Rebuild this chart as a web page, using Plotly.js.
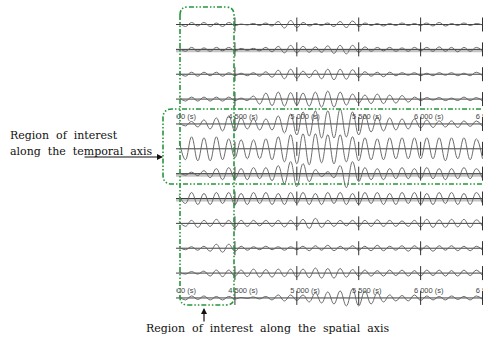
<!DOCTYPE html>
<html>
<head>
<meta charset="utf-8">
<script src="https://cdn.plot.ly/plotly-3.0.1.min.js"></script>
<style>html,body{margin:0;padding:0;background:#fff;}#chart{width:483px;height:342px;}</style>
</head>
<body>
<div id="chart"></div>
<script>
// ---- data ----
const times = [4050,4100,4150,4200,4250,4300,4350,4400,4450,4500,
               4550,4600,4650,4700,4750,4800,4850,4900,4950,5000,
               5050,5100,5150,5200,5250,5300,5350,5400,5450,5500,
               5550,5600,5650,5700,5750,5800,5850,5900,5950,6000,
               6050,6100,6150,6200,6250,6300,6350,6400,6450,6500];
// amplitude samples (peaks/troughs) for each trace, top to bottom
const trace0  = [1.5,-2,2,-1.5,2,-2,1.5,-2,2,-1, 0.5,-0.5,1,-1,1.5,-1.5, 3,-3.5,4,-3, 2,-1.5,1,-1,1.5, -2,3,-3,3.5,-2, 1.5,-1,1,-1.5,1,-1,1.5,-1,1, -1,1.5,-1.5,2,-1.5,1,-1,1.5,-1,1,-0.5];
const trace1  = [1.5,-2,2,-2,1.5,-2,2,-1.5,2,-1.5, 1,-1,1,-1.5,2,-2.5, 3,-3.5,4,-3.5, 3,-3,2.5,-3,3.5, -4,4,-4.5,4,-3, 2.5,-2,2,-1.5,2,-2,1.5,-2,2, -1.5,2,-2,2.5,-2,2,-2.5,2,-2,2,-1.5];
const trace2  = [1.5,-2,2,-2,2,-1.5,2,-2,1.5,-1.5, 1,-1.5,1.5,-2,2.5,-3, 4,-4.5,5,-4, 3,-3.5,4,-4.5,5, -5.5,5,-5,4.5,-3, 2.5,-2,2,-2.5,2,-1.5,1.5,-1,1.5, -1.5,1,-1.5,1.5,-1,1.5,-1.5,1,-1.5,2,-1.5];
const trace3  = [2,-2,2,-2,2,-2,2,-2,2,-1.5, 1,-1.5,3,-5,6,-6.5, 7,-7,6.5,-6, 6,-7,7,-8,8, -8,7,-6,5,-4, 4,-4.5,5,-4.5,4,-4,3.5,-3,2, -1.5,1.5,-1,1.5,-1.5,1,-1.5,2,-1.5,1.5,-2];
const trace4  = [1.5,-2,2.5,-3,4,-5,6,-7,8,-7, 6,-5,5,-6,5,-6, 8,-9,10,-11, 12,-12,13,-14,13, -14,15,-13,12,-11, 9,-8,7,-7,6,-6,5,-5,5, -4,4,-3.5,3,-3,3,-3.5,3,-2.5,3,-2.5];
const trace5  = [8,-11,12,-12,11,-12,12,-11,10,-9, 9,-10,9,-10,10,-11, 12,-13,14,-15, 15,-16,15,-14,14, -15,14,-13,12,-12, 11,-11,10,-11,11,-10,11,-10,11, -10,11,-10,11,-12,11,-10,11,-11,10,-10];
const trace6  = [1,-1.5,1.5,-2,3,-4,5,-6,6,-5, 5,-6,6,-5,6,-7, 8,-10,12,-13, 10,-8,4,-3,2, -4,8,-14,12,-8, 6,-6,5,-6,5,-5,6,-5,5, -5,6,-5,5,-6,5,-5,6,-5,5,-5];
const trace7  = [3,-5,6,-6,5,-6,6,-5,6,-6, 5,-6,6,-5,6,-6, 5,-6,6,-5, 6,-6,5,-6,6, -5,6,-6,5,-6, 6,-5,6,-6,5,-6,6,-5,6, -6,5,-6,6,-5,6,-6,5,-6,6,-5];
const trace8  = [2,-3,3,-4,3,-3,4,-3,3,-4, 3,-3,3,-2.5,3,-3, 3,-3.5,3,-3, 4,-5,5,-4,3, -3,3,-2.5,3,-3, 3,-3,3.5,-3,3,-3,2.5,-3,3, -3.5,4,-4,3.5,-4,4,-3.5,4,-4,3.5,-3];
const trace9  = [1,-1.5,1.5,-2,2,-3,4,-4,4,-3, 2,-2,1.5,-1.5,2,-1.5, 1.5,-2,1.5,-1.5, 2,-2.5,2.5,-2,3, -2.5,2,-2,2.5,-2, 2,-2.5,3,-2.5,2,-2,2.5,-3,2.5, -2,2.5,-3,2.5,-2,2.5,-2.5,2,-2.5,2,-2];
const trace10 = [1,-1,1.5,-1,2,-3,3,-3.5,3,-3, 3,-3.5,4,-4,3.5,-4, 4,-3.5,4,-4, 4,-4.5,5,-5,4.5, -5,4.5,-4,3.5,-3, 3,-3,2.5,-3,3,-2.5,3,-3,2.5, -3,3,-2.5,3,-3,2.5,-3,3,-2.5,3,-2.5];
const trace11 = [1.5,-2,2,-1.5,2,-2,1.5,-2,1.5,-1, 0.5,-0.5,1,-1,1.5,-2, 3,-3,3,-2.5, 3,-4,5,-5,6, -6,7,-8,9,-8, 7,-6,5,-4,3,-3,2.5,-3,3, -2.5,2,-2,1.5,-2,2,-1.5,1.5,-2,2,-1.5];
const allTraces = [trace0,trace1,trace2,trace3,trace4,trace5,trace6,trace7,trace8,trace9,trace10,trace11];

const tickTimes  = [4000, 4500, 5000, 5500, 6000, 6500];
const tickLabels = ['4 000 (s)', '4 500 (s)', '5 000 (s)', '5 500 (s)', '6 000 (s)', '6 500 (s)'];
const labelledTraces = [4, 11];
const bandTraces = [1, 6, 7];

// ---- geometry / style ----
const W = 483, H = 342;
const SPACING = 24.86;           // px between trace baselines
const X0 = 4024, X1 = 6504;
const LABEL_SHIFT_S = -54;       // label starts slightly left of tick
const X = px => px / W;
const Y = py => 1 - py / H;

const data = [];
bandTraces.forEach(i => {
  data.push({type:'scatter', mode:'lines', x:[X0, X1], y:[i + 0.06, i + 0.06],
    line:{color:'#c4c4c4', width:3}, hoverinfo:'skip'});
});
allTraces.forEach((tr, i) => {
  data.push({type:'scatter', mode:'lines', x:[X0, X1], y:[i, i],
    line:{color:'#2a2a2a', width:0.9}, hoverinfo:'skip'});
});
allTraces.forEach((tr, i) => {
  data.push({type:'scatter', mode:'lines', x:times, y:tr.map(a => i - a / SPACING),
    line:{color:'#5c5c5c', width:0.9, shape:'spline', smoothing:1.2}, hoverinfo:'skip'});
});
const tx = [], ty = [];
allTraces.forEach((tr, i) => tickTimes.forEach(t => { tx.push(t); ty.push(i); }));
data.push({type:'scatter', mode:'markers', x:tx, y:ty,
  marker:{symbol:'line-ns', size:10, line:{color:'#333', width:1}}, hoverinfo:'skip'});
labelledTraces.forEach(i => {
  data.push({type:'scatter', mode:'text', x:tickTimes.map(t => t + LABEL_SHIFT_S),
    y:tickTimes.map(() => i - 0.29), text:tickLabels, textposition:'middle right',
    textfont:{family:'Liberation Sans, Arial, sans-serif', size:7.5, color:'#444'},
    cliponaxis:true, hoverinfo:'skip'});
});

function rrect(x0, y0, x1, y1, r) {
  return `M ${X(x0)} ${Y(y0 + r)} L ${X(x0)} ${Y(y1 - r)} Q ${X(x0)} ${Y(y1)} ${X(x0 + r)} ${Y(y1)} ` +
         `L ${X(x1 - r)} ${Y(y1)} Q ${X(x1)} ${Y(y1)} ${X(x1)} ${Y(y1 - r)} ` +
         `L ${X(x1)} ${Y(y0 + r)} Q ${X(x1)} ${Y(y0)} ${X(x1 - r)} ${Y(y0)} ` +
         `L ${X(x0 + r)} ${Y(y0)} Q ${X(x0)} ${Y(y0)} ${X(x0)} ${Y(y0 + r)} Z`;
}
function openRight(x0, y0, x1, y1, r) {
  return `M ${X(x1)} ${Y(y0)} L ${X(x0 + r)} ${Y(y0)} Q ${X(x0)} ${Y(y0)} ${X(x0)} ${Y(y0 + r)} ` +
         `L ${X(x0)} ${Y(y1 - r)} Q ${X(x0)} ${Y(y1)} ${X(x0 + r)} ${Y(y1)} L ${X(x1)} ${Y(y1)}`;
}
const green = '#23973a';
const dash = '5px,2px,1.5px,2px,1.5px,2px';
const shapes = [
  {type:'path', xref:'paper', yref:'paper', path:rrect(180, 7, 234, 305, 8),
   line:{color:green, width:1.6, dash:dash}, layer:'above'},
  {type:'path', xref:'paper', yref:'paper', path:openRight(163, 109, 495, 184, 9),
   line:{color:green, width:1.6, dash:dash}, layer:'above'}
];

const serif = {family:'DejaVu Serif, Liberation Serif, serif', size:11, color:'#111'};
const nb = '\u00a0';
const annotations = [
  {xref:'paper', yref:'paper', x:X(8), y:Y(135), xanchor:'left', yanchor:'middle', showarrow:false,
   text:`Region${nb}${nb}of${nb}${nb}interest`, font:serif},
  {xref:'paper', yref:'paper', x:X(8), y:Y(151), xanchor:'left', yanchor:'middle', showarrow:false,
   text:`along${nb}${nb}the${nb}${nb}temporal${nb}${nb}axis`, font:serif},
  {xref:'paper', yref:'paper', x:X(144), y:Y(328), xanchor:'left', yanchor:'middle', showarrow:false,
   text:`Region${nb}${nb}of${nb}${nb}interest${nb}${nb}along${nb}${nb}the${nb}${nb}spatial${nb}${nb}axis`, font:serif},
  {xref:'paper', yref:'paper', x:X(163), y:Y(157), ax:-80, ay:0, text:'', showarrow:true,
   arrowhead:2, arrowsize:1, arrowwidth:1.2, arrowcolor:'#111'},
  {xref:'paper', yref:'paper', x:X(204), y:Y(308), ax:0, ay:15, text:'', showarrow:true,
   arrowhead:2, arrowsize:1, arrowwidth:1.2, arrowcolor:'#111'}
];

const layout = {
  width:W, height:H, margin:{l:0, r:0, t:0, b:0, pad:0},
  paper_bgcolor:'#fff', plot_bgcolor:'#fff', showlegend:false,
  xaxis:{range:[X0, X1], domain:[176 / W, 1], visible:false, fixedrange:true},
  yaxis:{range:[12.772, -0.9855], domain:[0, 1], visible:false, fixedrange:true},
  shapes:shapes, annotations:annotations
};
Plotly.newPlot('chart', data, layout, {staticPlot:true, displayModeBar:false});
</script>
</body>
</html>
